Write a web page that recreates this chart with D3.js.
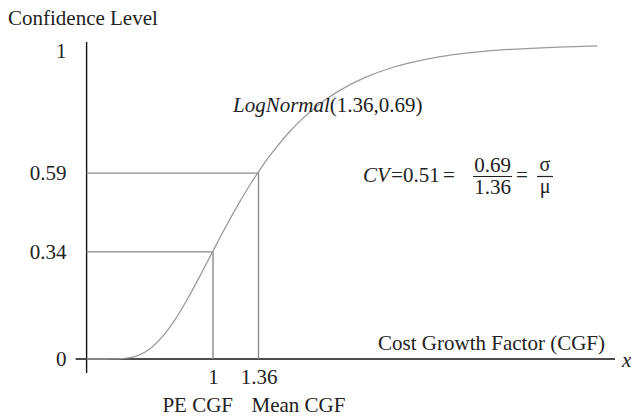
<!DOCTYPE html>
<html>
<head>
<meta charset="utf-8">
<script src="https://cdn.jsdelivr.net/npm/d3@7"></script>
<style>
  html, body { margin: 0; padding: 0; background: #fff; }
  svg { display: block; }
  svg text { font-family: "Liberation Serif", "DejaVu Serif", serif; fill: #222; font-size: 21px; }
</style>
</head>
<body>
<svg id="chart" width="631" height="417"></svg>
<script>
// ---- data ----
const yTicks = [0, 0.34, 0.59, 1];
const xTicks = [1, 1.36];
const xTickNames = ["PE CGF", "Mean CGF"];
const markerX = [1, 1.36];          // PE CGF, Mean CGF
const markerY = [0.34, 0.59];       // confidence levels
const curveX = [0, 0.1, 0.2, 0.3, 0.4, 0.5, 0.6, 0.7, 0.8, 0.9, 1.0, 1.1, 1.2, 1.3, 1.36, 1.4, 1.5, 1.6, 1.7, 1.8, 1.9, 2.0, 2.2, 2.4, 2.6, 2.8, 3.0, 3.2, 3.4, 3.6, 3.8, 4.04];
const curveY = [0, 0, 0.0001, 0.002, 0.010, 0.032, 0.071, 0.125, 0.192, 0.266, 0.343, 0.419, 0.491, 0.558, 0.594, 0.618, 0.671, 0.719, 0.760, 0.795, 0.826, 0.852, 0.893, 0.923, 0.944, 0.960, 0.971, 0.979, 0.984, 0.988, 0.991, 0.994];
const distLabel = ["LogNormal", "(1.36,0.69)"];
const cvValue = "0.51", cvNum = "0.69", cvDen = "1.36";

// ---- layout ----
const svg = d3.select("#chart");
const x = d3.scaleLinear().domain([0, 4.2]).range([86.6, 617.5]);
const y = d3.scaleLinear().domain([0, 1]).range([359, 44]);

const grey = "#8c8c8c";

// axes lines
svg.append("line").attr("x1", x(0) - 11).attr("x2", 615).attr("y1", y(0)).attr("y2", y(0))
  .attr("stroke", "#111").attr("stroke-width", 1.4);
svg.append("line").attr("x1", x(0)).attr("x2", x(0)).attr("y1", 42).attr("y2", y(0) + 14)
  .attr("stroke", "#111").attr("stroke-width", 1.4);

// drop lines
markerX.forEach((mx, i) => {
  svg.append("path")
    .attr("d", `M${x(0)},${y(markerY[i])}H${x(mx)}V${y(0)}`)
    .attr("fill", "none").attr("stroke", grey).attr("stroke-width", 1.4);
});

// curve
const pts = curveX.map((v, i) => [v, curveY[i]]);
svg.append("path").datum(pts)
  .attr("d", d3.line().x(d => x(d[0])).y(d => y(d[1])).curve(d3.curveMonotoneX))
  .attr("fill", "none").attr("stroke", "#9a9a9a").attr("stroke-width", 1.3);

// y axis labels
const yAxis = svg.append("g").attr("transform", `translate(${x(0)},0)`)
  .call(d3.axisLeft(y).tickValues(yTicks).tickSize(0).tickPadding(20)
    .tickFormat(d => d === 0 || d === 1 ? d3.format("d")(d) : d3.format(".2f")(d)));
yAxis.select(".domain").remove();
yAxis.attr("font-family", null).attr("font-size", null);
yAxis.selectAll("text").attr("fill", null)
  .attr("dy", d => d === 1 ? "0.62em" : "0.32em");

// x axis labels
const xAxis = svg.append("g").attr("transform", `translate(0,${y(0)})`)
  .call(d3.axisBottom(x).tickValues(xTicks).tickSize(0).tickPadding(10).tickFormat(d => String(d)));
xAxis.select(".domain").remove();
xAxis.attr("font-family", null).attr("font-size", null);
xAxis.selectAll("text").attr("fill", null);

// tick names under ticks
svg.append("text").attr("x", x(xTicks[0]) + 20).attr("y", 412).attr("text-anchor", "end").text(xTickNames[0]);
svg.append("text").attr("x", x(xTicks[1]) - 7).attr("y", 412).attr("text-anchor", "start").text(xTickNames[1]);

// axis titles
svg.append("text").attr("x", 8).attr("y", 25).text("Confidence Level");
svg.append("text").attr("x", 605).attr("y", 350).attr("text-anchor", "end").text("Cost Growth Factor (CGF)");
svg.append("text").attr("x", 622).attr("y", 367).attr("font-style", "italic").text("x");

// distribution label
const dl = svg.append("text").attr("x", 233).attr("y", 112);
dl.append("tspan").attr("font-style", "italic").text(distLabel[0]);
dl.append("tspan").text(distLabel[1]);

// CV formula
svg.append("text").attr("x", 363).attr("y", 182).attr("font-style", "italic").text("CV");
svg.append("text").attr("x", 391).attr("y", 182).text("=");
svg.append("text").attr("x", 403).attr("y", 182).text(cvValue);
svg.append("text").attr("x", 443).attr("y", 182).text("=");
svg.append("text").attr("x", 492.5).attr("y", 172).attr("text-anchor", "middle").text(cvNum);
svg.append("line").attr("x1", 473).attr("x2", 512).attr("y1", 176.5).attr("y2", 176.5).attr("stroke", "#222").attr("stroke-width", 1.2);
svg.append("text").attr("x", 492.5).attr("y", 194).attr("text-anchor", "middle").text(cvDen);
svg.append("text").attr("x", 516).attr("y", 182).text("=");
svg.append("text").attr("x", 545).attr("y", 171).attr("text-anchor", "middle").style("font-size", "20px").text("σ");
svg.append("line").attr("x1", 537).attr("x2", 553).attr("y1", 176.5).attr("y2", 176.5).attr("stroke", "#222").attr("stroke-width", 1.2);
svg.append("text").attr("x", 545).attr("y", 193).attr("text-anchor", "middle").style("font-size", "20px").text("μ");
</script>
</body>
</html>
